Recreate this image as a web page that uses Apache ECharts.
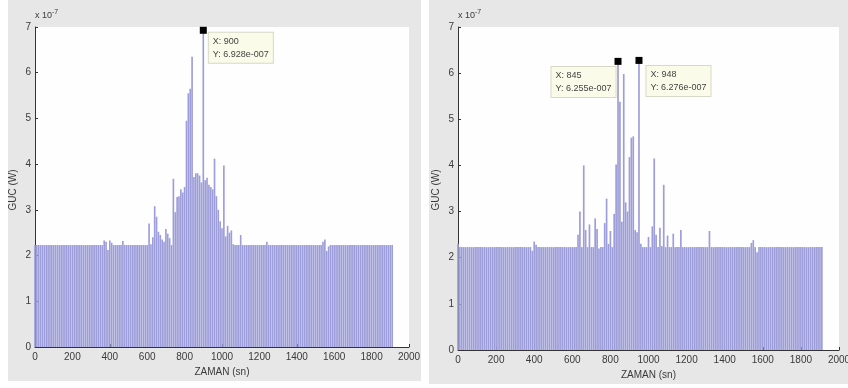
<!DOCTYPE html>
<html>
<head>
<meta charset="utf-8">
<script src="https://cdn.jsdelivr.net/npm/echarts@6/dist/echarts.min.js"></script>
<style>
  html, body { margin: 0; padding: 0; background: #fff; }
  #chart { width: 848px; height: 388px; }
</style>
</head>
<body>
<div id="chart"></div>
<script>
// power values in units of 1e-7 W, one bar every 10 sn (0 ... 1910)
const STEP = 10;

const leftPower = [
  2.23, 2.23, 2.23, 2.23, 2.23, 2.23, 2.23, 2.23, 2.23, 2.23, 2.23, 2.23, 2.23, 2.23, 2.23, 2.23,
  2.23, 2.23, 2.23, 2.23, 2.23, 2.23, 2.23, 2.23, 2.23, 2.23, 2.23, 2.23, 2.23, 2.23, 2.23, 2.23,
  2.23, 2.23, 2.23, 2.23, 2.23, 2.33, 2.30, 2.12, 2.33, 2.28, 2.23, 2.23, 2.23, 2.23, 2.23, 2.32,
  2.23, 2.23, 2.23, 2.23, 2.23, 2.23, 2.23, 2.23, 2.23, 2.23, 2.23, 2.23, 2.23, 2.70, 2.25, 2.40,
  3.08, 2.85, 2.52, 2.45, 2.35, 2.30, 2.58, 2.48, 2.38, 2.23, 3.68, 2.95, 3.28, 3.30, 3.45, 3.38,
  3.50, 4.95, 5.55, 5.65, 6.35, 3.72, 3.80, 3.80, 3.75, 3.60, 6.928, 3.65, 3.70, 3.55, 3.50, 3.45,
  4.12, 3.30, 3.00, 2.75, 2.60, 3.97, 2.42, 2.65, 2.50, 2.55, 2.25, 2.23, 2.23, 2.23, 2.45, 2.23,
  2.23, 2.23, 2.23, 2.23, 2.23, 2.23, 2.23, 2.23, 2.23, 2.23, 2.23, 2.23, 2.30, 2.23, 2.23, 2.23,
  2.23, 2.23, 2.23, 2.23, 2.23, 2.23, 2.23, 2.23, 2.23, 2.23, 2.23, 2.23, 2.23, 2.23, 2.23, 2.23,
  2.23, 2.23, 2.23, 2.23, 2.23, 2.23, 2.23, 2.23, 2.23, 2.23, 2.30, 2.35, 2.10, 2.20, 2.23, 2.23,
  2.23, 2.23, 2.23, 2.23, 2.23, 2.23, 2.23, 2.23, 2.23, 2.23, 2.23, 2.23, 2.23, 2.23, 2.23, 2.23,
  2.23, 2.23, 2.23, 2.23, 2.23, 2.23, 2.23, 2.23, 2.23, 2.23, 2.23, 2.23, 2.23, 2.23, 2.23, 2.23
];

const rightPower = [
  2.30, 2.23, 2.23, 2.23, 2.23, 2.23, 2.23, 2.23, 2.23, 2.23, 2.23, 2.23, 2.23, 2.23, 2.23, 2.23,
  2.23, 2.23, 2.23, 2.23, 2.23, 2.23, 2.23, 2.23, 2.23, 2.23, 2.23, 2.23, 2.23, 2.23, 2.23, 2.23,
  2.23, 2.23, 2.23, 2.23, 2.23, 2.23, 2.23, 2.15, 2.35, 2.28, 2.23, 2.23, 2.23, 2.23, 2.23, 2.23,
  2.23, 2.23, 2.23, 2.23, 2.23, 2.23, 2.23, 2.23, 2.23, 2.23, 2.23, 2.23, 2.23, 2.23, 2.23, 2.50,
  3.00, 2.23, 4.00, 2.60, 2.23, 2.72, 2.23, 2.23, 2.85, 2.62, 2.20, 2.23, 2.23, 2.75, 3.28, 2.30,
  2.58, 2.23, 2.95, 4.02, 6.255, 5.38, 2.78, 5.98, 3.20, 3.00, 4.18, 4.60, 4.63, 2.60, 2.55, 6.276,
  2.30, 2.23, 2.23, 2.23, 2.45, 2.23, 2.68, 4.15, 2.50, 2.23, 2.65, 2.25, 3.58, 2.23, 2.48, 2.23,
  2.23, 2.52, 2.23, 2.23, 2.23, 2.60, 2.23, 2.23, 2.23, 2.23, 2.23, 2.23, 2.23, 2.23, 2.23, 2.23,
  2.23, 2.23, 2.23, 2.23, 2.58, 2.23, 2.23, 2.23, 2.23, 2.23, 2.23, 2.23, 2.23, 2.23, 2.23, 2.23,
  2.23, 2.23, 2.23, 2.23, 2.23, 2.23, 2.23, 2.23, 2.23, 2.23, 2.32, 2.38, 2.23, 2.12, 2.23, 2.23,
  2.23, 2.23, 2.23, 2.23, 2.23, 2.23, 2.23, 2.23, 2.23, 2.23, 2.23, 2.23, 2.23, 2.23, 2.23, 2.23,
  2.23, 2.23, 2.23, 2.23, 2.23, 2.23, 2.23, 2.23, 2.23, 2.23, 2.23, 2.23, 2.23, 2.23, 2.23, 2.23
];

// data tips: bar index, shown X text, shown Y text
const leftTips = [{ idx: 90, x: '900', y: '6.928e-007' }];
const rightTips = [
  { idx: 84, x: '845', y: '6.255e-007' },
  { idx: 95, x: '948', y: '6.276e-007' }
];

const FONT = '"Liberation Sans", Arial, sans-serif';
const TXT = '#3a3a3a';

function pairs(arr) {
  return arr.map((v, i) => [i * STEP, v]);
}

function tipPoints(tips, arr, offsets) {
  return tips.map((t, k) => ({
    coord: [t.idx * STEP, arr[t.idx]],
    label: {
      show: true,
      formatter: 'X: ' + t.x + '\nY: ' + t.y,
      position: offsets[k],
      align: 'left',
      verticalAlign: 'top',
      color: '#444',
      fontFamily: FONT,
      fontSize: 9,
      lineHeight: 13,
      backgroundColor: '#fbfbe9',
      borderColor: '#d8d8c8',
      borderWidth: 1,
      padding: [2, 4, 2, 4]
    }
  }));
}

function xAxisOf(i) {
  return {
    type: 'value', gridIndex: i, min: 0, max: 2000, interval: 200,
    name: 'ZAMAN (sn)', nameLocation: 'middle', nameGap: 20,
    nameTextStyle: { color: TXT, fontFamily: FONT, fontSize: 10 },
    axisLine: { show: true, lineStyle: { color: '#333', width: 1 } },
    axisTick: { show: true, inside: true, length: 3, lineStyle: { color: '#333' } },
    axisLabel: {
      color: TXT, fontFamily: FONT, fontSize: 10, margin: 5,
      showMaxLabel: true, hideOverlap: false,
      formatter: v => String(v)
    },
    splitLine: { show: false }
  };
}

function yAxisOf(i) {
  return {
    type: 'value', gridIndex: i, min: 0, max: 7, interval: 1,
    name: '{a|x 10}{b|-7}', nameLocation: 'end', nameGap: 4,
    nameTextStyle: {
      align: 'left', verticalAlign: 'bottom',
      rich: {
        a: { color: TXT, fontFamily: FONT, fontSize: 9 },
        b: { color: TXT, fontFamily: FONT, fontSize: 7, padding: [0, 0, 7, 0] }
      }
    },
    axisLine: { show: true, lineStyle: { color: '#333', width: 1 } },
    axisTick: { show: true, inside: true, length: 3, lineStyle: { color: '#333' } },
    axisLabel: { color: TXT, fontFamily: FONT, fontSize: 10, margin: 4 },
    splitLine: { show: false }
  };
}

function barSeries(i, arr, tips, offsets) {
  return {
    type: 'bar', xAxisIndex: i, yAxisIndex: i,
    data: pairs(arr),
    barWidth: '88%',
    itemStyle: { color: '#9d9dd9' },
    silent: true,
    markPoint: {
      symbol: 'rect', symbolSize: 7,
      itemStyle: { color: '#000' },
      data: tipPoints(tips, arr, offsets)
    }
  };
}

const chart = echarts.init(document.getElementById('chart'));
chart.setOption({
  backgroundColor: '#ffffff',
  animation: false,
  graphic: [
    { type: 'rect', z: -10, shape: { x: 8, y: 0, width: 413, height: 381 }, style: { fill: '#e7e7e7' } },
    { type: 'rect', z: -10, shape: { x: 429, y: 0, width: 419, height: 384 }, style: { fill: '#e7e7e7' } },
    { type: 'text', x: 13, y: 190, rotation: Math.PI / 2, style: { text: 'GUC (W)', fill: TXT, font: '10px ' + FONT, align: 'center', verticalAlign: 'middle' } },
    { type: 'text', x: 436, y: 190, rotation: Math.PI / 2, style: { text: 'GUC (W)', fill: TXT, font: '10px ' + FONT, align: 'center', verticalAlign: 'middle' } }
  ],
  grid: [
    { left: 35, top: 27, width: 374, height: 320, show: true, backgroundColor: '#fefefe', borderWidth: 0, outerBoundsMode: 'none' },
    { left: 458, top: 27, width: 381, height: 323, show: true, backgroundColor: '#fefefe', borderWidth: 0, outerBoundsMode: 'none' }
  ],
  xAxis: [xAxisOf(0), xAxisOf(1)],
  yAxis: [yAxisOf(0), yAxisOf(1)],
  series: [
    barSeries(0, leftPower, leftTips, [[9, 6]]),
    barSeries(1, rightPower, rightTips, [[-63, 9], [11, 9]])
  ]
});
</script>
</body>
</html>
